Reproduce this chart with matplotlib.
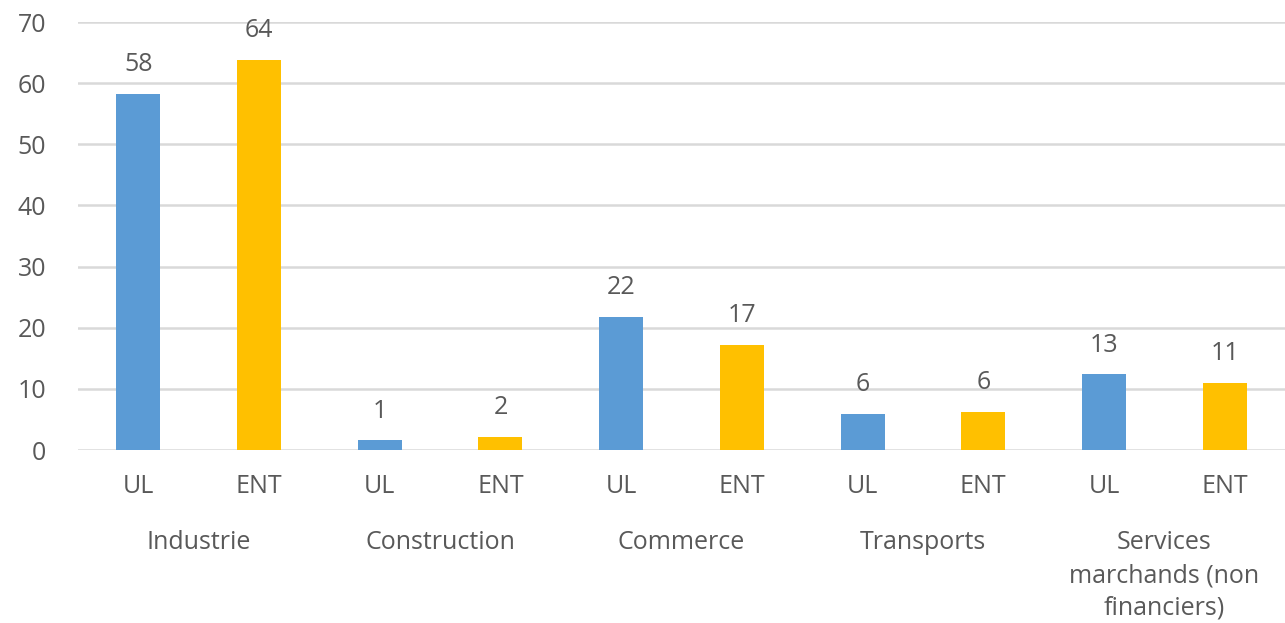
import numpy as np
import matplotlib.pyplot as plt
import matplotlib.transforms as mtransforms

# data
groups = ["Industrie", "Construction", "Commerce", "Transports",
          "Services\nmarchands (non\nfinanciers)"]
series = ["UL", "ENT"]
ul_vals = [58.3, 1.6, 21.8, 5.9, 12.4]
ent_vals = [63.8, 2.1, 17.2, 6.2, 11.0]
ul_labels = ["58", "1", "22", "6", "13"]
ent_labels = ["64", "2", "17", "6", "11"]

BLUE = "#5B9BD5"
GOLD = "#FFC000"
TXT = "#595959"
GRID = "#D9D9D9"
FS = 18

plt.rcParams['font.family'] = ['Open Sans', 'DejaVu Sans']

fig = plt.figure(figsize=(12.85, 6.23), dpi=100)
ax = fig.add_axes([78 / 1285, 173 / 623, 1 - 78 / 1285, 428 / 623])

n = len(groups)
x_ul = np.arange(n) * 2
x_ent = x_ul + 1
w = 0.365

b1 = ax.bar(x_ul, ul_vals, w, color=BLUE, zorder=3)
b2 = ax.bar(x_ent, ent_vals, w, color=GOLD, zorder=3)

for bars, labs in ((b1, ul_labels), (b2, ent_labels)):
    for rect, lab in zip(bars, labs):
        ax.annotate(lab, (rect.get_x() + rect.get_width() / 2, rect.get_height()),
                    xytext=(0, 12), textcoords="offset points",
                    ha="center", va="bottom", fontsize=FS, color=TXT)

ax.set_xlim(-0.5, 2 * n - 0.5)
ax.set_ylim(0, 70)
ax.set_yticks(np.arange(0, 71, 10))
ax.yaxis.grid(True, color=GRID, linewidth=1.8, zorder=0)
ax.set_axisbelow(True)
for s in ax.spines.values():
    s.set_visible(False)
ax.tick_params(axis="y", length=0, labelsize=FS, labelcolor=TXT, pad=23)
ax.set_xticks([])

trans = mtransforms.blended_transform_factory(ax.transData, ax.transAxes)
for i in range(n):
    ax.text(x_ul[i], -0.085, series[0], transform=trans, ha="center", va="center",
            fontsize=FS, color=TXT)
    ax.text(x_ent[i], -0.085, series[1], transform=trans, ha="center", va="center",
            fontsize=FS, color=TXT)
    ax.text(x_ul[i] + 0.5, -0.187, groups[i], transform=trans, ha="center", va="top",
            fontsize=FS, color=TXT, linespacing=1.42)

fig.savefig("out.png", dpi=100)
